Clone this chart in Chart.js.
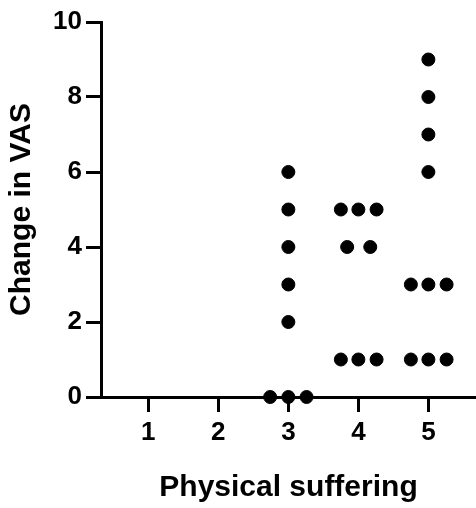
<!DOCTYPE html>
<html>
<head>
<meta charset="utf-8">
<script src="https://cdn.jsdelivr.net/npm/chart.js@4/dist/chart.umd.min.js"></script>
<style>
    body { margin: 0; background: #fff; }
    #wrap { width: 476px; height: 508px; }
</style>
</head>
<body>
<div id="wrap"><canvas id="vasChart" width="476" height="508"></canvas></div>
<script>
        // category ticks on the x axis
        const categories = [1, 2, 3, 4, 5];
        const yTicks = [0, 2, 4, 6, 8, 10];

        // one entry per patient, x is the category with the plot's horizontal spread
        const physicalSuffering = [
            3, 3, 3, 3, 3, 2.74, 3, 3.26,
            3.75, 4, 4.26, 3.84, 4.17, 3.75, 4, 4.26,
            5, 5, 5, 5, 4.75, 5, 5.26, 4.75, 5, 5.26
        ];
        const changeInVas = [
            6, 5, 4, 3, 2, 0, 0, 0,
            5, 5, 5, 4, 4, 1, 1, 1,
            9, 8, 7, 6, 3, 3, 3, 1, 1, 1
        ];

        const fontFamily = '"Liberation Sans", Arial, Helvetica, sans-serif';
        const points = physicalSuffering.map((x, i) => ({ x: x, y: changeInVas[i] }));

        const axisGrid = {
            display: true,
            drawOnChartArea: false,
            drawTicks: true,
            tickLength: 15,
            tickWidth: 3,
            tickColor: '#000'
        };
        const axisBorder = { display: true, width: 3, color: '#000' };

        new Chart(document.getElementById('vasChart'), {
            type: 'scatter',
            data: {
                datasets: [{
                    data: points,
                    backgroundColor: '#000',
                    borderColor: '#000',
                    pointRadius: 6.5,
                    pointHoverRadius: 6.5,
                    clip: false
                }]
            },
            options: {
                responsive: false,
                animation: false,
                devicePixelRatio: 1,
                layout: {
                    autoPadding: false,
                    padding: { top: 22, right: 0, left: 0, bottom: 0 }
                },
                plugins: {
                    legend: { display: false },
                    tooltip: { enabled: false }
                },
                scales: {
                    x: {
                        type: 'linear',
                        min: 0.324,
                        max: 5.68,
                        grid: axisGrid,
                        border: axisBorder,
                        afterBuildTicks: (scale) => {
                            scale.ticks = categories.map(v => ({ value: v }));
                        },
                        afterFit: (scale) => { scale.height = 111; },
                        ticks: {
                            color: '#000',
                            padding: 5,
                            maxRotation: 0,
                            font: { family: fontFamily, size: 26, weight: 'bold' }
                        },
                        title: {
                            display: true,
                            text: 'Physical suffering',
                            color: '#000',
                            padding: { top: 0, bottom: 2.5 },
                            font: { family: fontFamily, size: 30, weight: 'bold' }
                        }
                    },
                    y: {
                        min: 0,
                        max: 10,
                        grid: axisGrid,
                        border: axisBorder,
                        afterBuildTicks: (scale) => {
                            scale.ticks = yTicks.map(v => ({ value: v }));
                        },
                        afterFit: (scale) => { scale.width = 101; },
                        ticks: {
                            color: '#000',
                            padding: 4,
                            font: { family: fontFamily, size: 26, weight: 'bold' }
                        },
                        title: {
                            display: true,
                            text: 'Change in VAS',
                            color: '#000',
                            padding: { top: 3.5, bottom: 0 },
                            font: { family: fontFamily, size: 30, weight: 'bold' }
                        }
                    }
                }
            }
        });
</script>
</body>
</html>
